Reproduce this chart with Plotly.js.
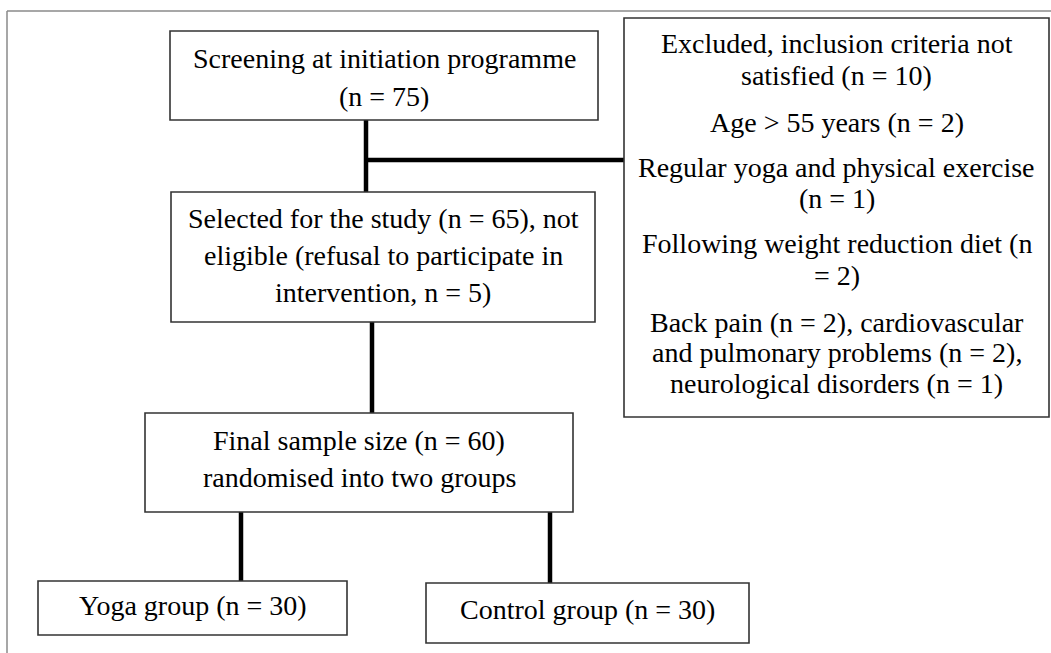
<!DOCTYPE html>
<html>
<head>
<meta charset="utf-8">
<script src="https://cdn.plot.ly/plotly-3.0.1.min.js"></script>
<style>html,body{margin:0;padding:0;background:#fff;}#chart{width:1051px;height:653px;}</style>
</head>
<body>
<div id="chart"></div>
<script>
// ---- Data (text content of the flowchart) ----
var screeningLines = ["Screening at initiation programme", "(n = 75)"];
var selectedLines = ["Selected for the study (n = 65), not", "eligible (refusal to participate in", "intervention, n = 5)"];
var finalLines = ["Final sample size (n = 60)", "randomised into two groups"];
var yogaLines = ["Yoga group (n = 30)"];
var controlLines = ["Control group (n = 30)"];
var excludedLines = [
  "Excluded, inclusion criteria not", "satisfied (n = 10)",
  "Age > 55 years (n = 2)",
  "Regular yoga and physical exercise", "(n = 1)",
  "Following weight reduction diet (n", "= 2)",
  "Back pain (n = 2), cardiovascular", "and pulmonary problems (n = 2),", "neurological disorders (n = 1)"
];

// ---- Layout geometry (pixel space) ----
var W = 1051, H = 653;
var boxes = [
  {lines: screeningLines, x0: 170, x1: 598, y0: 31, y1: 120, ty: [58, 96]},
  {lines: selectedLines, x0: 171, x1: 595, y0: 192, y1: 322, ty: [218, 255, 292]},
  {lines: finalLines, x0: 145, x1: 573, y0: 413, y1: 512, ty: [440, 477]},
  {lines: yogaLines, x0: 38, x1: 347, y0: 581, y1: 635, ty: [605]},
  {lines: controlLines, x0: 426, x1: 749, y0: 583, y1: 643, ty: [609]},
  {lines: excludedLines, x0: 624, x1: 1049, y0: 18, y1: 417,
   ty: [43, 75, 122, 167, 198, 243, 275, 322, 352, 383]}
];
var connectors = [
  [366, 120, 366, 192],
  [366, 160, 624, 160],
  [372, 322, 372, 413],
  [241, 512, 241, 581],
  [550, 512, 550, 583]
];

var FONT = "Liberation Serif";
var shapes = [];
var annotations = [];

// outer frame (top and left edges)
shapes.push({type: "line", xref: "x", yref: "y", x0: 7, y0: 11, x1: W, y1: 11, line: {color: "#8a8a8a", width: 1.5}});
shapes.push({type: "line", xref: "x", yref: "y", x0: 7, y0: 11, x1: 7, y1: H, line: {color: "#8a8a8a", width: 1.5}});

connectors.forEach(function (c) {
  shapes.push({type: "line", xref: "x", yref: "y", x0: c[0], y0: c[1], x1: c[2], y1: c[3],
    line: {color: "#000", width: 4.5}});
});

boxes.forEach(function (b) {
  shapes.push({type: "rect", xref: "x", yref: "y", x0: b.x0, x1: b.x1, y0: b.y0, y1: b.y1,
    line: {color: "#333", width: 1.6}, fillcolor: "rgba(255,255,255,0)"});
  var cx = (b.x0 + b.x1) / 2;
  b.lines.forEach(function (t, i) {
    annotations.push({x: cx, y: b.ty[i], xref: "x", yref: "y", text: t, showarrow: false,
      xanchor: "center", yanchor: "middle",
      font: {family: FONT, size: 28, color: "#000"}});
  });
});

var layout = {
  width: W, height: H,
  margin: {l: 0, r: 0, t: 0, b: 0},
  paper_bgcolor: "#fff", plot_bgcolor: "#fff",
  xaxis: {range: [0, W], visible: false, fixedrange: true},
  yaxis: {range: [H, 0], visible: false, fixedrange: true},
  showlegend: false,
  shapes: shapes,
  annotations: annotations
};

Plotly.newPlot("chart", [], layout, {displayModeBar: false});
</script>
</body>
</html>
